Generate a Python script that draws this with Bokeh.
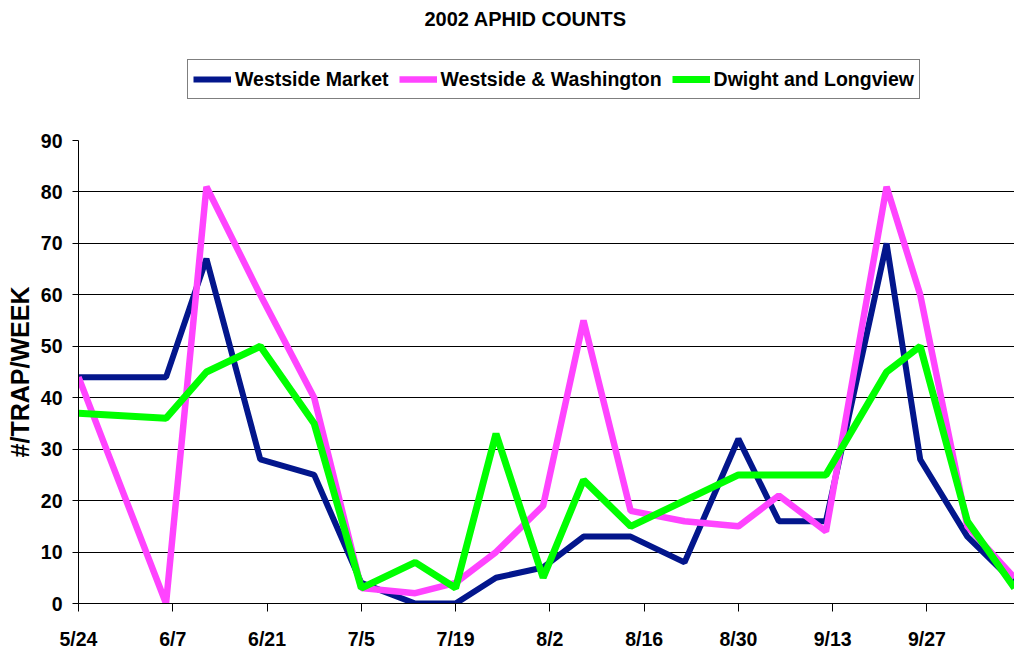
from datetime import date
from bokeh.plotting import figure
from bokeh.layouts import column
from bokeh.models import Range1d, FixedTicker, Legend, LegendItem, Label
from bokeh.embed import file_html
from bokeh.resources import INLINE

YEAR = 2002
dates = ["5/24", "6/6", "6/12", "6/20", "6/28", "7/5", "7/13", "7/19", "7/25", "8/1",
         "8/7", "8/14", "8/22", "8/30", "9/5", "9/12", "9/21", "9/26", "10/3", "10/10"]
westside_market = [44, 44, 67, 28, 25, 4, 0, 0, 5, 7, 13, 13, 8, 32, 16, 16, 70, 28, 13, 4]
westside_washington = [44, 0, 81, 60, 40, 3, 2, 4, 10, 19, 55, 18, 16, 15, 21, 14, 81, 60, 15, 5]
dwight_longview = [37, 36, 45, 50, 35, 3, 8, 3, 33, 5, 24, 15, 20, 25, 25, 25, 45, 50, 16, 3]
tick_labels = ["5/24", "6/7", "6/21", "7/5", "7/19", "8/2", "8/16", "8/30", "9/13", "9/27"]
y_ticks = [0, 10, 20, 30, 40, 50, 60, 70, 80, 90]
series_names = ["Westside Market", "Westside & Washington", "Dwight and Longview"]
series_colors = ["#03168C", "#FF44FF", "#00FF00"]
series_widths = [6, 6.5, 7]
title_text = "2002 APHID COUNTS"

START = date(YEAR, 5, 24)


def to_day(s):
    m, d = map(int, s.split("/"))
    return (date(YEAR, m, d) - START).days


x = [to_day(d) for d in dates]
tick_pos = [to_day(t) for t in tick_labels]

FONT = "Liberation Sans"
W = 1014

# ---------- header: title + legend ----------
top = figure(width=W, height=100, x_range=Range1d(0, 1), y_range=Range1d(0, 1),
             output_backend="svg", toolbar_location=None,
             min_border_left=78, min_border_right=0, min_border_top=0, min_border_bottom=0,
             x_axis_location=None, y_axis_location=None)
top.outline_line_color = None
top.grid.visible = False

top.add_layout(Label(x=346, y=82, x_units="screen", y_units="screen", text=title_text,
                     text_font=FONT, text_font_style="bold", text_font_size="20px",
                     text_color="black", text_baseline="alphabetic", text_align="left"))

nan = float("nan")
proxies = []
for col, w in zip(series_colors, series_widths):
    proxies.append(top.line(x=[nan], y=[nan], line_color=col, line_width=w))

legend = Legend(items=[LegendItem(label=n, renderers=[r]) for n, r in zip(series_names, proxies)],
                orientation="horizontal", location=(109, 1))
legend.label_text_font = FONT
legend.label_text_font_style = "bold"
legend.label_text_font_size = "19.5px"
legend.label_text_color = "black"
legend.label_standoff = 4
legend.glyph_width = 38
legend.glyph_height = 28
legend.label_height = 28
legend.spacing = 10
legend.padding = 5
legend.margin = 0
legend.border_line_color = "black"
legend.border_line_width = 1.5
legend.background_fill_color = "white"
top.add_layout(legend, "center")

# ---------- chart ----------
p = figure(width=W, height=552,
           x_range=Range1d(0, to_day("10/10")), y_range=Range1d(0, 90),
           output_backend="svg", toolbar_location=None,
           min_border_left=78, min_border_right=0, min_border_bottom=48, min_border_top=40)
p.outline_line_color = None
p.background_fill_color = "white"
p.border_fill_color = "white"

for vals, col, w in zip([westside_market, westside_washington, dwight_longview], series_colors, series_widths):
    p.line(x, vals, line_color=col, line_width=w, line_join="bevel")

p.xaxis.ticker = FixedTicker(ticks=tick_pos)
p.xaxis.major_label_overrides = {tp: lab for tp, lab in zip(tick_pos, tick_labels)}
p.yaxis.ticker = FixedTicker(ticks=y_ticks)
for ax in (p.xaxis[0], p.yaxis[0]):
    ax.axis_line_color = "black"
    ax.axis_line_width = 1
    ax.major_tick_line_color = "black"
    ax.major_tick_in = 0
    ax.minor_tick_line_color = None
    ax.major_label_text_font = FONT
    ax.major_label_text_font_style = "bold"
    ax.major_label_text_font_size = "19.5px"
    ax.major_label_text_color = "black"
p.yaxis.major_tick_out = 6
p.yaxis.major_label_standoff = 10
p.xaxis.major_tick_out = 8
p.xaxis.major_label_standoff = 16
p.yaxis.axis_label = "#/TRAP/WEEK"
p.yaxis.axis_label_text_font = FONT
p.yaxis.axis_label_text_font_style = "bold"
p.yaxis.axis_label_text_font_size = "25px"
p.yaxis.axis_label_text_color = "black"
p.yaxis.axis_label_standoff = 4

p.xgrid.grid_line_color = None
p.ygrid.grid_line_color = "black"
p.ygrid.grid_line_width = 1

layout = column(top, p, spacing=0)
open("out.html", "w").write(file_html(layout, INLINE))
